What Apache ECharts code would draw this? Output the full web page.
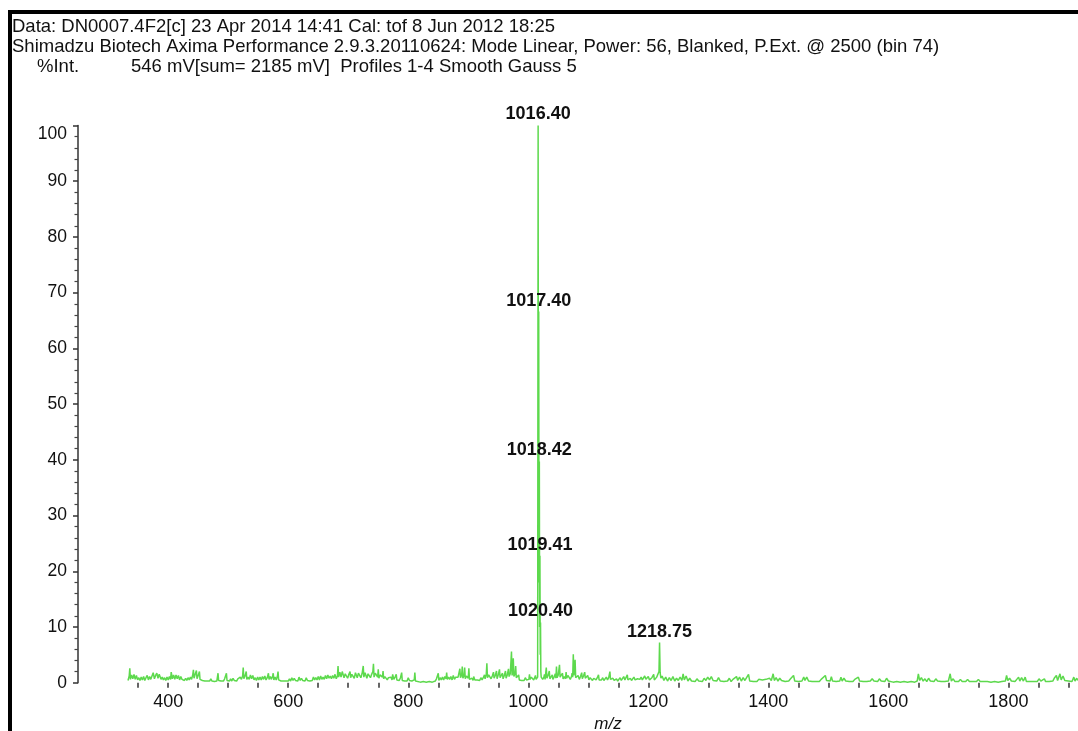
<!DOCTYPE html>
<html>
<head>
<meta charset="utf-8">
<script src="https://cdn.jsdelivr.net/npm/echarts@6/dist/echarts.min.js"></script>
<style>
  html, body { margin: 0; padding: 0; background: #fff; overflow: hidden; }
  #frame { position: absolute; left: 8px; top: 10px; width: 1200px; height: 900px;
           border-left: 4px solid #000; border-top: 4px solid #000; }
  #chart { position: absolute; left: 0; top: 0; width: 1078px; height: 731px; }
</style>
</head>
<body>
<div id="frame"></div>
<div id="chart"></div>
<script>
// Acquisition header
const headerLines = [
  'Data: DN0007.4F2[c] 23 Apr 2014 14:41 Cal: tof 8 Jun 2012 18:25',
  'Shimadzu Biotech Axima Performance 2.9.3.20110624: Mode Linear, Power: 56, Blanked, P.Ext. @ 2500 (bin 74)'
];
const intensityTitle = '%Int.';
const intensityInfo = '546 mV[sum= 2185 mV]  Profiles 1-4 Smooth Gauss 5';

// Labelled peaks: m/z and relative intensity (%)
const peakMz  = [1016.40, 1017.40, 1018.42, 1019.41, 1020.40, 1218.75];
const peakInt = [100, 66.6, 39.7, 22.8, 10.8, 7.2];

// Baseline / noise profile, low-mass side: [m/z, %Int]
const noiseLow = [
  [333,0.4],[335,1.2],[336,2.6],[337,0.6],[339,1.4],[341,0.7],[343,1.5],[345,0.6],[347,1.3],[349,0.5],
  [351,0.9],[353,0.4],[355,1.0],[357,0.5],[359,1.1],[361,0.4],[363,0.9],[365,1.3],[367,0.5],[369,1.1],
  [371,0.6],[373,1.2],[375,1.8],[377,0.7],[379,1.3],[381,1.7],[383,0.8],[385,1.5],[386,1.7],[388,0.6],
  [390,1.0],[392,0.5],[394,0.9],[396,0.4],[398,1.0],[400,0.5],[402,1.1],[404,0.6],[405,1.9],[407,0.7],
  [409,1.4],[411,0.6],[413,1.4],[415,0.7],[417,1.3],[419,0.5],[421,1.1],[423,0.6],[425,0.9],[427,0.4],
  [429,0.8],[431,0.4],[433,0.9],[435,0.5],[437,1.0],[439,0.6],[441,1.5],[442,2.3],[443,0.8],[445,1.5],
  [447,2.2],[448,0.7],[450,1.3],[452,2.0],[453,0.6],[455,0.9],[457,0.4],[459,0.7],[461,0.3],[463,0.6],
  [465,0.3],[467,0.6],[469,0.3],[471,0.7],[473,0.3],[475,0.5],[477,0.2],[479,0.4],[481,0.3],[483,1.7],
  [484,0.4],[486,0.6],[488,0.3],[490,0.5],[492,0.3],[494,0.7],[496,0.5],[497,1.7],[498,0.4],[500,0.6],
  [502,0.3],[504,0.7],[506,0.3],[508,0.8],[510,0.4],[512,0.6],[514,0.3],[516,0.7],[518,0.4],[520,1.0],
  [522,0.6],[524,1.2],[525,2.7],[526,0.7],[528,1.2],[530,2.0],[531,0.6],[533,1.0],[535,0.6],[537,1.4],
  [539,0.7],[541,1.3],[543,0.5],[545,0.9],[547,0.4],[549,1.0],[551,0.5],[553,1.0],[555,0.5],[557,1.1],
  [559,0.6],[561,1.2],[563,0.5],[565,0.9],[567,1.7],[568,0.6],[570,1.1],[572,0.6],[574,1.2],[575,1.7],
  [576,0.5],[578,1.0],[580,0.5],[582,1.2],[583,2.0],[584,0.5],[586,0.7],[588,0.3],[590,0.5],[592,0.3],
  [594,0.6],[596,0.3],[598,0.5],[600,0.3],[602,0.7],[604,0.3],[606,0.9],[608,0.4],[610,0.8],[612,0.4],
  [614,0.7],[616,0.3],[618,1.0],[620,0.4],[622,0.8],[624,0.4],[626,0.7],[628,0.3],[630,0.9],[632,0.4],
  [634,0.7],[636,0.3],[638,0.6],[640,0.4],[642,1.0],[644,0.5],[646,0.9],[648,0.5],[650,1.1],[652,0.5],
  [654,1.2],[656,0.6],[658,1.0],[660,0.6],[662,1.3],[664,0.7],[666,1.4],[668,0.8],[670,1.2],[672,0.7],
  [674,1.3],[676,0.8],[678,1.5],[680,0.7],[682,1.2],[683,3.0],[684,1.0],[686,1.9],[688,1.0],[690,2.0],
  [692,2.2],[693,0.9],[695,1.6],[697,1.7],[699,0.8],[701,1.5],[703,2.0],[704,0.9],[706,1.5],[708,1.6],
  [710,0.8],[712,1.8],[714,2.1],[715,0.9],[717,1.7],[719,1.8],[721,0.9],[723,1.6],[725,3.0],[726,1.0],
  [728,1.8],[730,2.1],[731,0.8],[733,1.6],[735,1.7],[737,0.9],[739,1.5],[741,2.0],[742,3.4],[743,1.0],
  [745,1.7],[747,1.8],[749,1.0],[750,2.4],[751,0.8],[753,1.4],[755,1.3],[757,1.0],[758,2.1],[759,0.7],
  [761,1.1],[763,1.0],[765,0.5],[767,0.9],[769,0.6],[771,1.0],[773,0.5],[774,1.5],[776,0.6],[778,1.0],
  [780,1.5],[781,0.5],[783,0.8],[785,0.4],[787,0.9],[789,1.8],[790,0.4],[792,0.7],[794,0.3],[796,0.6],
  [798,0.3],[800,0.9],[802,0.4],[804,0.6],[806,0.3],[808,0.5],[810,0.5],[811,1.8],[812,0.3],[815,0.2],
  [820,0.1],[825,0.2],[830,0.1],[835,0.2],[840,0.1],[845,0.3],[847,0.7],[849,0.5],[850,1.7],[851,0.4],
  [853,0.9],[855,0.5],[857,1.0],[859,0.5],[861,1.1],[863,0.7],[864,1.8],[865,0.6],[867,1.0],[869,0.6],
  [871,1.1],[873,0.5],[875,1.3],[877,0.6],[879,1.0],[881,0.7],[883,1.0],[885,1.2],[886,2.5],[887,0.9],
  [889,1.4],[890,2.9],[891,0.8],[893,1.3],[894,2.7],[895,0.7],[897,1.2],[899,1.5],[900,0.8],[901,2.6],
  [902,0.6],[904,0.5],[906,0.8],[908,0.4],[909,1.1],[911,0.5],[913,0.8],[915,0.5],[917,0.7],[919,0.4],
  [921,0.9],[923,0.5],[925,0.9],[927,1.4],[928,0.7],[930,1.5],[931,3.5],[932,0.9],[934,1.4],[936,1.3],
  [938,0.7],[940,1.2],[942,1.9],[943,0.8],[945,1.3],[947,2.1],[948,0.7],[950,1.4],[952,2.4],[953,0.9],
  [955,1.3],[957,1.7],[958,0.7],[960,1.3],[962,2.1],[963,0.8],[965,1.4],[967,2.5],[968,1.1],[970,1.6],
  [972,5.6],[973,1.3],[974,2.0],[975,4.4],[976,1.1],[978,1.6],[979,3.0],[980,0.9],[982,1.1],[984,1.4],
  [985,0.5],[987,0.7],[989,0.4],[991,0.7],[993,0.4],[995,0.9],[997,0.5],[999,0.8],[1001,0.6],[1002,1.5],
  [1003,0.6],[1005,1.0],[1007,0.9],[1009,0.5],[1011,0.8],[1012,1.3],[1013,0.6],[1014,0.8]
];

// Shoulders and valleys between the isotope peaks
const clusterValleys = [
  [1015.6,1.0],[1016.9,30],[1017.9,18],[1018.9,10],[1019.9,5],[1020.9,2.0],[1021.5,1.0]
];

// Baseline / noise profile, high-mass side: [m/z, %Int]
const noiseHigh = [
  [1023,1.2],[1024,0.6],[1026,1.0],[1027,1.5],[1028,0.6],[1030,2.7],[1031,0.8],[1033,1.3],[1035,2.1],[1036,0.7],
  [1038,1.0],[1040,1.4],[1041,0.6],[1043,1.0],[1045,1.6],[1046,0.8],[1047,2.9],[1048,0.9],[1050,1.4],[1052,3.2],
  [1053,1.0],[1055,1.3],[1057,1.7],[1058,0.7],[1060,1.1],[1062,0.7],[1063,1.9],[1064,0.8],[1066,1.3],[1068,1.1],
  [1070,0.6],[1072,1.1],[1073,1.7],[1074,1.0],[1075,5.1],[1076,1.3],[1077,2.2],[1078,4.1],[1079,0.9],[1081,1.2],
  [1083,1.3],[1085,0.6],[1087,1.1],[1089,1.8],[1090,0.7],[1092,1.2],[1094,1.9],[1095,0.8],[1097,1.1],[1099,1.3],
  [1101,0.5],[1103,0.9],[1105,1.1],[1107,0.4],[1109,0.8],[1111,1.0],[1113,0.5],[1115,0.9],[1117,1.4],[1118,0.5],
  [1120,0.8],[1122,0.5],[1124,0.9],[1126,0.4],[1128,0.7],[1130,1.0],[1132,0.5],[1134,0.9],[1136,2.0],[1137,0.6],
  [1139,0.9],[1141,0.8],[1143,0.4],[1145,0.6],[1147,0.7],[1149,0.3],[1151,0.6],[1153,0.9],[1155,0.4],[1157,0.7],
  [1159,1.1],[1161,0.5],[1163,0.8],[1165,1.4],[1166,0.5],[1168,0.8],[1170,0.8],[1172,0.4],[1174,0.7],[1176,1.0],
  [1178,0.5],[1180,0.7],[1182,0.7],[1184,0.4],[1186,0.6],[1188,1.0],[1190,0.5],[1192,0.8],[1194,1.2],[1196,0.6],
  [1198,0.8],[1200,1.1],[1202,0.5],[1204,0.7],[1206,0.9],[1208,0.6],[1209,1.5],[1210,0.5],[1212,0.8],[1214,1.0],
  [1216,0.7],[1217.8,2.0],[1219.7,1.8],[1221,0.8],[1223,1.2],[1226,0.4],[1229,1.0],[1232,0.3],[1235,0.9],[1238,0.4],
  [1241,1.1],[1244,0.3],[1247,0.8],[1250,0.4],[1253,1.0],[1256,0.4],[1258,1.6],[1260,0.5],[1263,1.2],[1266,0.3],
  [1269,0.8],[1272,0.3],[1275,0.6],[1278,0.2],[1281,0.7],[1284,0.3],[1287,0.5],[1290,0.2],[1293,0.8],[1296,0.4],
  [1299,1.0],[1302,0.5],[1305,1.1],[1308,0.4],[1311,0.7],[1314,0.3],[1317,0.9],[1320,0.3],[1323,0.6],[1326,0.2],
  [1329,0.5],[1332,0.3],[1335,0.8],[1338,0.2],[1341,0.6],[1344,0.3],[1347,1.1],[1349,0.4],[1352,1.0],[1355,0.3],
  [1358,0.9],[1361,0.4],[1364,0.7],[1367,1.5],[1369,0.3],[1372,0.5],[1375,0.2],[1378,0.4],[1381,0.2],[1384,0.6],
  [1387,0.3],[1390,0.5],[1393,0.2],[1396,0.6],[1399,0.3],[1402,0.8],[1405,0.4],[1408,1.6],[1410,0.4],[1413,0.9],
  [1416,0.3],[1419,0.8],[1422,0.4],[1425,0.6],[1428,0.2],[1431,0.5],[1434,0.3],[1437,0.7],[1440,0.4],[1442,1.3],
  [1444,0.3],[1447,0.6],[1450,0.2],[1453,0.5],[1456,0.3],[1459,1.0],[1461,0.4],[1464,1.0],[1467,0.3],[1470,0.6],
  [1473,0.2],[1476,0.4],[1479,0.2],[1482,0.5],[1485,0.2],[1488,0.6],[1491,0.3],[1495,1.3],[1497,0.4],[1500,0.7],
  [1503,0.3],[1505,1.1],[1507,0.3],[1510,0.6],[1513,0.2],[1516,0.5],[1519,0.3],[1521,1.0],[1523,0.3],[1526,0.8],
  [1529,0.3],[1532,0.5],[1535,0.2],[1538,0.4],[1541,0.2],[1544,0.6],[1547,0.3],[1550,1.0],[1552,0.3],[1555,0.5],
  [1558,0.2],[1561,0.4],[1564,0.2],[1567,0.5],[1570,0.3],[1573,0.7],[1576,0.3],[1579,0.6],[1582,0.2],[1585,0.7],
  [1588,0.3],[1591,0.5],[1594,0.2],[1597,0.8],[1600,0.3],[1603,0.2],[1608,0.1],[1614,0.2],[1620,0.1],[1626,0.2],
  [1632,0.1],[1638,0.2],[1644,0.1],[1648,0.3],[1650,1.6],[1652,0.4],[1655,0.9],[1658,0.3],[1661,0.7],[1664,0.2],
  [1667,0.8],[1670,0.3],[1673,0.6],[1676,0.2],[1679,0.7],[1682,0.3],[1685,0.6],[1688,0.2],[1691,0.4],[1694,0.2],
  [1697,0.5],[1700,0.3],[1703,1.6],[1705,0.3],[1708,0.7],[1711,0.2],[1714,0.5],[1717,0.2],[1720,0.6],[1723,0.2],
  [1726,0.4],[1729,0.2],[1732,0.6],[1735,0.2],[1738,0.4],[1741,0.2],[1744,0.5],[1747,0.2],[1750,0.6],[1753,0.2],
  [1756,0.4],[1759,0.2],[1762,0.5],[1765,0.2],[1768,0.3],[1771,0.1],[1774,0.4],[1777,0.2],[1780,0.3],[1783,0.1],
  [1786,0.4],[1789,0.2],[1792,0.5],[1795,0.3],[1797,1.3],[1799,0.4],[1802,0.8],[1805,0.3],[1808,0.5],[1811,0.2],
  [1814,0.6],[1817,1.0],[1819,0.3],[1822,0.9],[1825,0.3],[1828,1.0],[1830,0.2],[1833,0.5],[1836,0.2],[1839,0.4],
  [1842,0.2],[1845,0.5],[1848,0.2],[1851,0.7],[1854,0.3],[1857,0.6],[1860,0.7],[1862,0.2],[1865,0.4],[1868,0.2],
  [1871,0.5],[1874,0.3],[1877,0.9],[1880,1.3],[1882,0.4],[1884,1.0],[1886,1.6],[1888,0.5],[1891,1.2],[1894,0.4],
  [1897,0.6],[1900,0.3],[1903,0.5],[1906,0.2],[1909,1.0],[1911,0.3],[1914,0.8],[1916,0.4]
];

// Axis ticks and labels
const xTickValues = [350,400,450,500,550,600,650,700,750,800,850,900,950,1000,1050,1100,1150,
                     1200,1250,1300,1350,1400,1450,1500,1550,1600,1650,1700,1750,1800,1850,1900];
const xLabelValues = [400,600,800,1000,1200,1400,1600,1800];
const mzRange = [333, 1916];
const yRange = [0, 100];

const FONT = '"Liberation Sans", Arial, sans-serif';
const GREEN = '#5dd94d';
const INK = '#111';
const HEADER_FONT = '18.5px ' + FONT;

// Full profile: noise plus labelled peak apexes, sorted by m/z
const peakPoints = peakMz.map((m, i) => [m, peakInt[i]]);
const profile = noiseLow.concat(clusterValleys, noiseHigh, peakPoints).sort((a, b) => a[0] - b[0]);

const chart = echarts.init(document.getElementById('chart'), null, { renderer: 'canvas' });

chart.setOption({
  animation: false,
  backgroundColor: 'transparent',
  graphic: [
    { type: 'text', x: 12, y: 26.5, style: { text: headerLines[0], font: HEADER_FONT, fill: INK, verticalAlign: 'middle' } },
    { type: 'text', x: 12, y: 46.5, style: { text: headerLines[1], font: HEADER_FONT, fill: INK, verticalAlign: 'middle' } },
    { type: 'text', x: 37, y: 66.5, style: { text: intensityTitle, font: HEADER_FONT, fill: INK, verticalAlign: 'middle' } },
    { type: 'text', x: 131, y: 66.5, style: { text: intensityInfo, font: HEADER_FONT, fill: INK, verticalAlign: 'middle' } }
  ],
  grid: { left: 128, right: 0, top: 125.5, bottom: 48.3, outerBoundsMode: 'none' },
  xAxis: {
    type: 'value',
    min: mzRange[0],
    max: mzRange[1],
    name: 'm/z',
    nameLocation: 'middle',
    nameGap: 31,
    nameTextStyle: { fontFamily: FONT, fontSize: 17, fontStyle: 'italic', color: INK, padding: [0, 0, 0, 10] },
    axisLine: { show: false },
    axisTick: { show: true, customValues: xTickValues, length: 5, lineStyle: { color: '#333', width: 1.5 } },
    axisLabel: {
      customValues: xLabelValues, margin: 10, fontFamily: FONT, fontSize: 18, color: INK,
      formatter: v => String(v)
    },
    splitLine: { show: false }
  },
  yAxis: {
    type: 'value',
    min: yRange[0],
    max: yRange[1],
    interval: 10,
    offset: 50,
    axisLine: { show: true, lineStyle: { color: '#333', width: 1.5 } },
    axisTick: { show: true, length: 5, lineStyle: { color: '#333', width: 1.5 } },
    minorTick: { show: true, splitNumber: 5, length: 3.5, lineStyle: { color: '#444', width: 1.2 } },
    axisLabel: {
      margin: 11,
      fontFamily: FONT,
      fontSize: 17.5,
      color: INK,
      formatter: v => (v === 100 ? '{top|100}' : String(v)),
      rich: { top: { padding: [17, 0, 0, 0], fontFamily: FONT, fontSize: 17.5, color: INK } }
    },
    splitLine: { show: false }
  },
  series: [
    {
      type: 'line',
      data: profile,
      showSymbol: false,
      symbol: 'none',
      lineStyle: { color: GREEN, width: 1.5 },
      z: 2
    },
    {
      type: 'scatter',
      data: peakPoints,
      symbolSize: 0,
      itemStyle: { color: 'transparent', opacity: 1 },
      z: 5,
      label: {
        show: true,
        position: 'top',
        distance: 2,
        formatter: p => p.value[0].toFixed(2),
        fontFamily: FONT,
        fontWeight: 'bold',
        fontSize: 18,
        color: INK,
        opacity: 1
      }
    }
  ]
});
</script>
</body>
</html>
